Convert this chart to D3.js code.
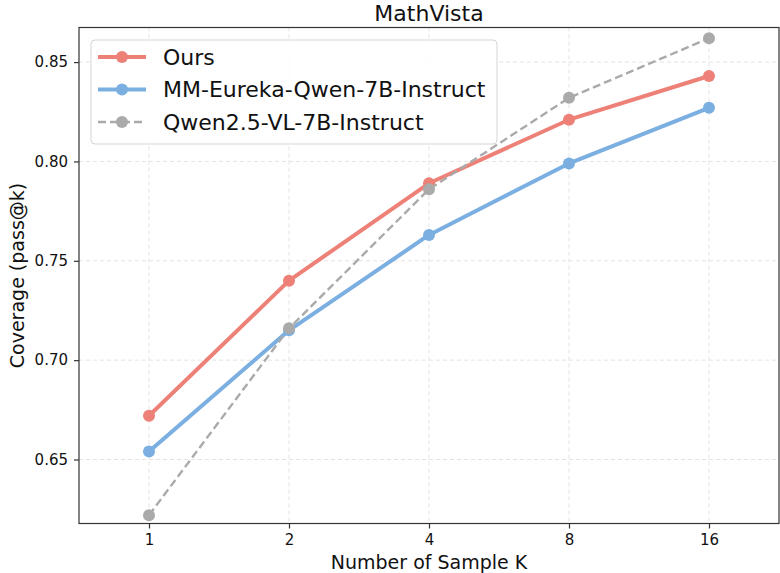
<!DOCTYPE html>
<html><head><meta charset="utf-8">
<script src="https://cdn.jsdelivr.net/npm/d3@7"></script>
<style>body{margin:0;background:#fff}svg{display:block}text{font-family:"DejaVu Sans",sans-serif}</style>
</head><body><svg id="c" width="780" height="573"></svg>
<script>
const kLabels = ["1","2","4","8","16"];
const ours = [0.672, 0.740, 0.789, 0.821, 0.843];
const eureka = [0.654, 0.715, 0.763, 0.799, 0.827];
const qwen = [0.622, 0.716, 0.786, 0.832, 0.862];
const yTicks = [0.65, 0.70, 0.75, 0.80, 0.85];
const seriesNames = ["Ours", "MM-Eureka-Qwen-7B-Instruct", "Qwen2.5-VL-7B-Instruct"];

const series = [
  {name: seriesNames[0], values: ours, color: "#EE8177", width: 4, dash: null},
  {name: seriesNames[1], values: eureka, color: "#7BAFE1", width: 4, dash: null},
  {name: seriesNames[2], values: qwen, color: "#AAAAAA", width: 2.4, dash: "8,4"}
];

const svg = d3.select("#c");
const L = 79, R = 779, T = 27.5, B = 523.5;
const x = d3.scaleLinear().domain([-0.5, 4.5]).range([L, R]);
const y = d3.scaleLinear().domain([0.6178, 0.8674]).range([B, T]);

// grid
const g = svg.append("g");
g.selectAll(".gx").data(kLabels).join("line")
  .attr("x1", (d,i)=>x(i)).attr("x2", (d,i)=>x(i)).attr("y1", T).attr("y2", B)
  .attr("stroke", "#e3e3e3").attr("stroke-width", 1).attr("stroke-dasharray", "4,3");
g.selectAll(".gy").data(yTicks).join("line")
  .attr("x1", L).attr("x2", R).attr("y1", d=>y(d)).attr("y2", d=>y(d))
  .attr("stroke", "#e3e3e3").attr("stroke-width", 1).attr("stroke-dasharray", "4,3");

// axes
const xAxis = d3.axisBottom(x).tickValues(d3.range(kLabels.length)).tickFormat(i=>kLabels[i]).tickSize(5).tickPadding(6);
const yAxis = d3.axisLeft(y).tickValues(yTicks).tickFormat(d3.format(".2f")).tickSize(5).tickPadding(6);
const gx = svg.append("g").attr("transform", `translate(0,${B})`).call(xAxis);
const gy = svg.append("g").attr("transform", `translate(${L},0)`).call(yAxis);
[gx, gy].forEach(a => {
  a.select(".domain").remove();
  a.selectAll(".tick line").attr("stroke", "#333").attr("stroke-width", 1.2);
  a.selectAll(".tick text").attr("fill", "#111").style("font-size", "15px").style("font-family", "DejaVu Sans");
});

// lines
const line = d3.line().x((d,i)=>x(i)).y(d=>y(d));
series.forEach(s => {
  svg.append("path").datum(s.values).attr("d", line).attr("fill", "none")
    .attr("stroke", s.color).attr("stroke-width", s.width)
    .attr("stroke-dasharray", s.dash).attr("stroke-linejoin", "round");
  svg.selectAll(null).data(s.values).join("circle")
    .attr("cx", (d,i)=>x(i)).attr("cy", d=>y(d)).attr("r", 6).attr("fill", s.color);
});

// frame
svg.append("rect").attr("x", L).attr("y", T).attr("width", R-L).attr("height", B-T)
  .attr("fill", "none").attr("stroke", "#333").attr("stroke-width", 1.2);

// legend
const lg = svg.append("g");
lg.append("rect").attr("x", 91).attr("y", 40).attr("width", 406).attr("height", 104).attr("rx", 4)
  .attr("fill", "rgba(255,255,255,0.85)").attr("stroke", "#d5d5d5").attr("stroke-width", 1);
series.forEach((s, i) => {
  const cy = 57 + i * 32.5;
  lg.append("line").attr("x1", 98).attr("x2", 146).attr("y1", cy).attr("y2", cy)
    .attr("stroke", s.color).attr("stroke-width", s.width).attr("stroke-dasharray", s.dash);
  lg.append("circle").attr("cx", 122).attr("cy", cy).attr("r", 6).attr("fill", s.color);
  lg.append("text").attr("x", 163).attr("y", cy).attr("dy", "0.36em")
    .style("font-size", "22px").attr("fill", "#111").text(s.name);
});

// titles
svg.append("text").attr("x", (L+R)/2).attr("y", 21).attr("text-anchor", "middle")
  .style("font-size", "22px").attr("fill", "#111").text("MathVista");
svg.append("text").attr("x", (L+R)/2).attr("y", 569).attr("text-anchor", "middle")
  .style("font-size", "19px").attr("fill", "#111").text("Number of Sample K");
svg.append("text").attr("transform", `translate(24,${(T+B)/2}) rotate(-90)`).attr("text-anchor", "middle")
  .style("font-size", "19px").attr("fill", "#111").text("Coverage (pass@k)");
</script></body></html>
